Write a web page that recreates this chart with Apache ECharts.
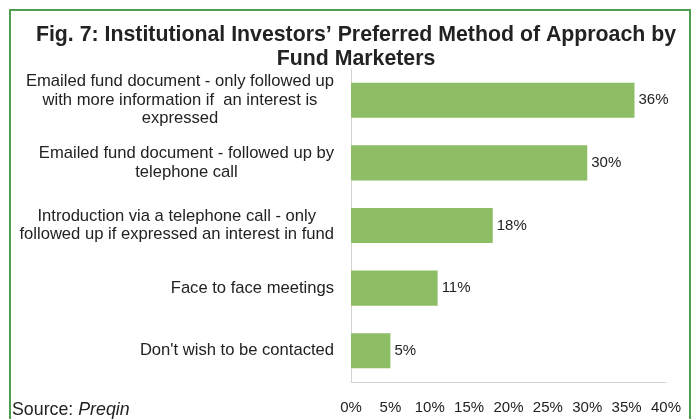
<!DOCTYPE html>
<html>
<head>
<meta charset="utf-8">
<script src="https://cdn.jsdelivr.net/npm/echarts@6/dist/echarts.min.js"></script>
<style>
html,body{margin:0;padding:0;background:#fff;}
#chart{width:696px;height:419px;}
</style>
</head>
<body>
<div id="chart"></div>
<script>
const titleText = "Fig. 7: Institutional Investors’ Preferred Method of Approach by\nFund Marketers";
const sourceLabel = "Source: ";
const sourceName = "Preqin";
const categories = [
  "Emailed fund document - only followed up\nwith more information if  an interest is\nexpressed",
  "Emailed fund document - followed up by\ntelephone call",
  "Introduction via a telephone call - only\nfollowed up if expressed an interest in fund",
  "Face to face meetings",
  "Don't wish to be contacted"
];
const values = [36, 30, 18, 11, 5];
const axisMin = 0;
const axisMax = 40;
const axisStep = 5;

const FONT = "'Liberation Sans', Arial, sans-serif";
const chart = echarts.init(document.getElementById('chart'), null, {renderer: 'canvas'});
chart.setOption({
  animation: false,
  backgroundColor: '#ffffff',
  title: [
    {
      text: titleText,
      left: 351,
      top: 18,
      textAlign: 'center',
      textStyle: {fontFamily: FONT, fontSize: 21.3, fontWeight: 'bold', color: '#222', lineHeight: 24}
    },
    {
      text: '{n|' + sourceLabel + '}{i|' + sourceName + '}',
      left: 7,
      top: 396,
      textStyle: {
        fontWeight: 'normal',
        rich: {
          n: {fontFamily: FONT, fontSize: 17.8, fontWeight: 'normal', color: '#222'},
          i: {fontFamily: FONT, fontSize: 17.8, fontWeight: 'normal', fontStyle: 'italic', color: '#222'}
        }
      }
    }
  ],
  graphic: [
    {
      type: 'rect',
      shape: {x: 10, y: 10, width: 680, height: 430},
      style: {fill: 'none', stroke: '#4f9e4f', lineWidth: 2},
      silent: true
    }
  ],
  grid: {left: 351, top: 69, width: 315, bottom: 37},
  xAxis: {
    type: 'value',
    min: axisMin,
    max: axisMax,
    interval: axisStep,
    axisLine: {show: true, lineStyle: {color: '#d4d4d4', width: 1}},
    axisTick: {show: false},
    splitLine: {show: false},
    axisLabel: {
      formatter: v => v + '%',
      fontFamily: FONT,
      fontSize: 15,
      color: '#222',
      margin: 18
    }
  },
  yAxis: {
    type: 'category',
    data: categories,
    inverse: true,
    axisLine: {show: true, lineStyle: {color: '#d4d4d4', width: 1}},
    axisTick: {show: false},
    axisLabel: {
      margin: 17,
      formatter: v => v.split('\n').map(l => '{c|' + l + '}').join('\n'),
      rich: {
        c: {align: 'center', fontFamily: FONT, fontSize: 16.6, color: '#222', lineHeight: 18.5}
      }
    }
  },
  series: [{
    type: 'bar',
    data: values,
    barWidth: '56%',
    itemStyle: {color: '#8dbd64'},
    label: {
      show: true,
      position: 'right',
      distance: 4,
      formatter: p => p.value + '%',
      fontFamily: FONT,
      fontSize: 15,
      color: '#222'
    }
  }]
});
</script>
</body>
</html>
